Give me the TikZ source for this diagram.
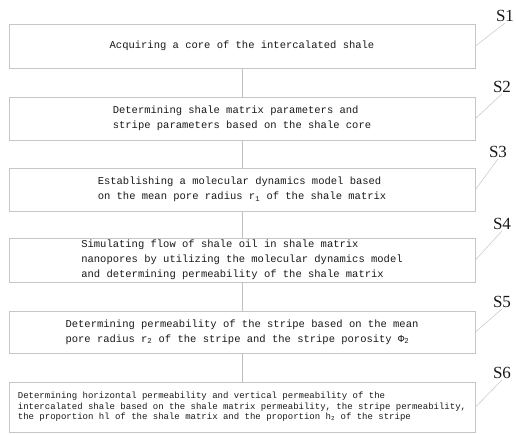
\documentclass[tikz,border=0pt]{standalone}
\usepackage{fontspec}
\setmainfont{Liberation Serif}
\setmonofont{Liberation Mono}
\begin{document}
\begin{tikzpicture}[x=1pt,y=-1pt,
  box/.style={draw=gray!45, line width=1pt, minimum width=466pt, inner sep=0pt, align=left,
    font=\ttfamily\fontsize{10.5}{15}\selectfont, text=black!90},
  smallbox/.style={box, font=\ttfamily\fontsize{9}{10.5}\selectfont},
  steplabel/.style={font=\fontsize{17}{17}\selectfont, text=black!90, inner sep=1pt},
  leader/.style={draw=gray!40, line width=0.6pt},
  link/.style={draw=gray!50, line width=0.9pt}]
\useasboundingbox (0,0) rectangle (516,434);
\node[box, minimum height=44pt] (b1) at (242,46) {Acquiring a core of the intercalated shale};
\node[box, minimum height=43pt] (b2) at (242,118.5) {Determining shale matrix parameters and\\stripe parameters based on the shale core};
\node[box, minimum height=43pt] (b3) at (242,189.5) {Establishing a molecular dynamics model based\\on the mean pore radius r\textsubscript{1} of the shale matrix};
\node[box, minimum height=44pt] (b4) at (242,260) {Simulating flow of shale oil in shale matrix\\nanopores by utilizing the molecular dynamics model\\and determining permeability of the shale matrix};
\node[box, minimum height=42pt] (b5) at (242,332) {Determining permeability of the stripe based on the mean\\pore radius r\textsubscript{2} of the stripe and the stripe porosity Φ\textsubscript{2}};
\node[smallbox, minimum height=50pt] (b6) at (242,407) {Determining horizontal permeability and vertical permeability of the\\intercalated shale based on the shale matrix permeability, the stripe permeability,\\the proportion hl of the shale matrix and the proportion h\textsubscript{2} of the stripe};
\foreach \a/\b in {b1/b2,b2/b3,b3/b4,b4/b5,b5/b6} \draw[link] (\a) -- (\b);
\node[steplabel] (s1) at (505,16) {S1};
\node[steplabel] (s2) at (502,87) {S2};
\node[steplabel] (s3) at (498,152) {S3};
\node[steplabel] (s4) at (502,224) {S4};
\node[steplabel] (s5) at (502,302) {S5};
\node[steplabel] (s6) at (502,373) {S6};
\foreach \i in {1,...,6} \draw[leader] (b\i.east) -- (s\i.south);
\end{tikzpicture}
\end{document}
